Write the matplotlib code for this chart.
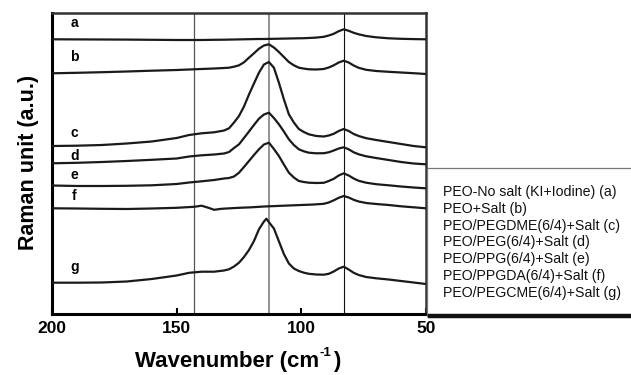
import matplotlib
matplotlib.use("Agg")
import matplotlib.pyplot as plt
from matplotlib.patches import Rectangle
from matplotlib.lines import Line2D

plt.rcParams['font.family'] = ['Liberation Sans', 'DejaVu Sans']

# ---- data (arbitrary stacked intensity) ----
wn = [200, 190, 180, 170, 160, 150, 145, 140, 135, 131, 129, 127, 125, 123, 121,
      119, 117, 115, 113, 111, 109, 107, 105, 103, 101, 99, 97, 94, 91, 89, 87,
      85, 83, 81, 79, 77, 74, 70, 65, 60, 55, 50]

a = [274.7, 274.6, 274.5, 274.4, 274.2, 274.0, 274.0, 274.0, 274.2, 274.3, 274.4,
     274.5, 274.6, 274.7, 274.8, 274.9, 275.0, 275.0, 275.1, 275.2, 275.3, 275.4,
     275.5, 275.6, 275.7, 275.8, 276.0, 276.4, 277.2, 278.5, 280.2, 282.8, 284.7,
     283.2, 281.2, 279.7, 278.0, 276.7, 275.7, 275.2, 274.9, 274.7]
b = [240.7, 241.2, 241.8, 242.5, 243.3, 244.0, 244.5, 245.0, 245.5, 246.0, 246.3,
     247.3, 248.7, 251.7, 256.3, 260.7, 265.3, 268.5, 269.7, 266.5, 262.0, 257.0,
     252.0, 248.7, 246.3, 245.4, 244.7, 244.5, 245.0, 246.5, 248.7, 251.5, 253.3,
     251.5, 248.5, 246.2, 244.2, 243.0, 242.2, 241.5, 240.8, 240.0]
c = [168.0, 168.3, 169.0, 170.5, 172.5, 176.0, 179.0, 180.7, 181.7, 183.5, 185.7,
     191.5, 198.0, 207.5, 219.5, 230.5, 241.3, 249.5, 252.0, 246.3, 231.3, 214.7,
     199.7, 191.5, 185.0, 182.0, 179.7, 178.0, 177.5, 178.5, 180.2, 183.0, 185.0,
     183.0, 180.0, 178.0, 175.8, 174.0, 172.0, 170.0, 168.0, 166.7]
d = [150.7, 151.2, 152.0, 153.0, 154.2, 155.5, 157.5, 158.7, 159.5, 160.5, 162.0,
     166.0, 169.7, 176.0, 182.5, 189.0, 195.3, 199.5, 201.3, 196.0, 189.7, 182.5,
     174.7, 169.0, 164.7, 162.7, 161.3, 160.7, 160.8, 161.7, 163.5, 165.5, 166.7,
     164.7, 161.7, 159.7, 157.7, 156.0, 154.0, 152.0, 150.5, 149.7]
e = [128.5, 128.0, 128.0, 128.2, 128.7, 130.0, 131.5, 132.7, 134.0, 135.5, 136.0,
     137.5, 141.3, 147.0, 153.0, 159.0, 164.7, 169.5, 171.3, 165.0, 158.0, 149.5,
     141.3, 136.5, 133.0, 132.0, 131.3, 131.0, 131.2, 133.0, 135.2, 138.5, 140.7,
     138.5, 135.5, 133.2, 131.3, 129.8, 128.7, 127.5, 126.5, 125.7]

wn_f = [200, 190, 180, 170, 160, 150, 143, 140, 137, 135, 132, 130, 125, 120, 115,
        110, 105, 100, 95, 91, 89, 87, 85, 83, 81, 79, 77, 74, 70, 65, 60, 55, 50]
f = [105.7, 105.5, 105.2, 105.0, 105.5, 106.2, 107.2, 108.3, 106.0, 104.2, 105.2,
     105.5, 106.2, 106.7, 107.5, 108.0, 108.5, 109.0, 109.5, 110.2, 111.5, 113.7,
     116.2, 118.0, 116.5, 114.2, 112.5, 111.0, 110.0, 109.0, 107.7, 106.7, 105.7]

wn_g = [200, 190, 180, 170, 160, 150, 145, 140, 135, 131, 129, 127, 125, 123, 121,
        119, 117, 115, 114, 113, 111, 109, 107, 105, 103, 101, 99, 97, 94, 91, 89,
        87, 85, 83, 81, 79, 77, 74, 70, 65, 60, 55, 50]
g = [31.3, 31.3, 31.5, 32.5, 35.0, 38.5, 41.2, 42.3, 42.3, 43.5, 44.7, 47.5, 51.3,
     57.0, 64.0, 73.0, 84.7, 92.5, 95.3, 91.8, 85.5, 72.7, 60.0, 50.5, 45.5, 43.0,
     41.3, 40.2, 39.5, 39.3, 40.2, 42.5, 45.5, 47.3, 44.5, 41.2, 39.0, 37.0, 35.7,
     34.5, 33.0, 31.5, 30.0]

curve_letters = ['a', 'b', 'c', 'd', 'e', 'f', 'g']
letter_y = [290.7, 257.3, 181.3, 158.3, 139.0, 118.0, 47.3]
legend_labels = [
    "PEO-No salt (KI+Iodine) (a)",
    "PEO+Salt (b)",
    "PEO/PEGDME(6/4)+Salt (c)",
    "PEO/PEG(6/4)+Salt (d)",
    "PEO/PPG(6/4)+Salt (e)",
    "PEO/PPGDA(6/4)+Salt (f)",
    "PEO/PEGCME(6/4)+Salt (g)",
]
ref_lines = [143, 113, 83]

# ---- figure ----
W, H = 631, 375
fig = plt.figure(figsize=(W / 100, H / 100), dpi=100)
ax = fig.add_axes([52 / W, 1 - 314 / H, (426 - 52) / W, (314 - 13) / H])

# reference lines
ax.axvline(ref_lines[0], color='#555555', lw=0.9, zorder=1)
ax.axvline(ref_lines[1], color='#8a8a8a', lw=1.3, zorder=1)
ax.axvline(ref_lines[2], color='#111111', lw=0.8, zorder=1)

for xs, ys in [(wn, a), (wn, b), (wn, c), (wn, d), (wn, e), (wn_f, f), (wn_g, g)]:
    ax.plot(xs, ys, color='#1a1a1a', lw=1.6, solid_joinstyle='round', zorder=3)

for lab, yy in zip(curve_letters, letter_y):
    ax.text(191, yy, lab, fontsize=10, fontweight='bold', ha='center', va='center')

ax.set_xlim(200, 50)
ax.set_ylim(0, 301)
ax.set_yticks([])
ax.set_xticks([200, 150, 100, 50])
ax.set_xticklabels(['200', '150', '100', '50'], fontsize=12.5, fontweight='bold')
ax.tick_params(axis='x', direction='in', length=4, width=1.5, pad=5)
for side in ['left', 'bottom']:
    ax.spines[side].set_linewidth(2.2)
ax.spines['top'].set_linewidth(1.8)
ax.spines['top'].set_color('#333333')
ax.spines['right'].set_linewidth(1.8)
ax.spines['right'].set_color('#333333')

fig.text(29 / W, 1 - 162 / H, "Raman unit (a.u.)", rotation=90, fontsize=15.5,
         fontweight='bold', ha='center', va='center')

# x label with a small "-1" superscript
xl = fig.text(135 / W, 1 - 362 / H, "Wavenumber (cm", fontsize=16,
              fontweight='bold', ha='left', va='center')
sup = fig.text(0, 0, "")
sup.remove()
sup = plt.annotate("-1", xy=(1.0, 0.62), xycoords=xl, xytext=(0.5, 0),
                   textcoords='offset points', fontsize=9.5, fontweight='bold',
                   ha='left', va='bottom', annotation_clip=False)
plt.annotate(")", xy=(1.0, 0.5), xycoords=(sup, xl), xytext=(0.8, 0),
             textcoords='offset points', fontsize=16, fontweight='bold',
             ha='left', va='center', annotation_clip=False)

# legend box to the right of the axes
fig.add_artist(Rectangle((427 / W, 1 - 316 / H), (W - 427) / W + 0.01, (316 - 168) / H,
                         transform=fig.transFigure, facecolor='white',
                         edgecolor='#777777', lw=0.9))
fig.add_artist(Line2D([430 / W, 1.0], [1 - 316 / H, 1 - 316 / H],
                      transform=fig.transFigure, color='#111111', lw=3.2))
for i, lab in enumerate(legend_labels):
    fig.text(443 / W, 1 - (191.7 + 16.9 * i) / H, lab, fontsize=10.2,
             ha='left', va='center', color='#111111')

fig.savefig("out.png", dpi=100)
